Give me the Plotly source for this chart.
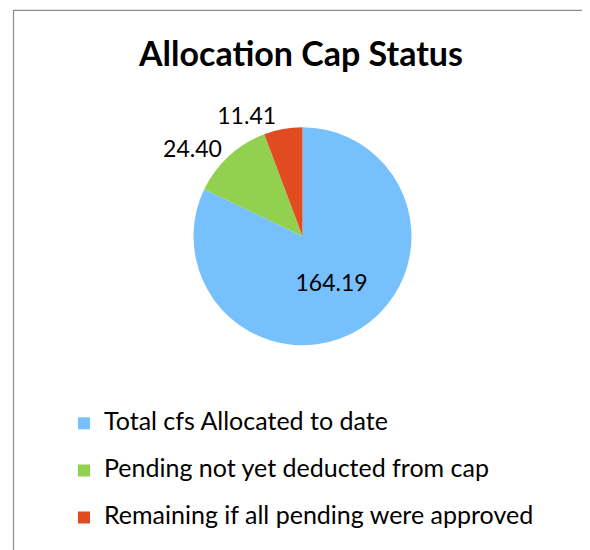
import plotly.graph_objects as go

labels = ["Total cfs Allocated to date",
          "Pending not yet deducted from cap",
          "Remaining if all pending were approved"]
values = [164.19, 24.40, 11.41]
value_text = ["164.19", "24.40", "11.41"]
colors = ["#77C0FE", "#92D050", "#E14B20"]
text_pos = ["inside", "outside", "outside"]

W, H = 590, 550
OFF = 8  # page body margin offset in the browser
cx, cy, r = 302.5 - OFF, 240.5 - OFF, 111

legend_labels = [f"<span style='font-size:25px'>{l}</span><br> " for l in labels]

fig = go.Figure(go.Pie(
    labels=legend_labels,
    values=values,
    text=value_text,
    textinfo="text",
    textposition=text_pos,
    marker=dict(colors=colors, line=dict(width=0)),
    sort=False,
    direction="clockwise",
    rotation=0,
    insidetextfont=dict(color="black", size=23, family="Lato"),
    outsidetextfont=dict(color="black", size=23, family="Lato"),
    domain=dict(x=[(cx - r) / W, (cx + r) / W], y=[1 - (cy + r) / H, 1 - (cy - r) / H]),
    hoverinfo="label+value",
))

fig.update_layout(
    width=W, height=H,
    margin=dict(l=0, r=0, t=0, b=0),
    paper_bgcolor="white",
    plot_bgcolor="white",
    title=dict(text="<b>Allocation Cap Status</b>", x=(301 - OFF) / W, xanchor="center",
               y=1 - (54 - OFF) / H, yanchor="middle",
               font=dict(family="Lato", size=34, color="black")),
    font=dict(family="Lato", color="black"),
    showlegend=True,
    legend=dict(x=(64 - OFF) / W, xanchor="left", y=1 - (413 - OFF) / H, yanchor="top",
                font=dict(size=17, family="Lato", color="black"),
                valign="top", bgcolor="rgba(0,0,0,0)"),
    shapes=[dict(type="rect", xref="paper", yref="paper",
                 x0=(13.5 - OFF) / W, x1=1.05, y0=-0.05, y1=1 - (10.5 - OFF) / H,
                 line=dict(color="#8C8C8C", width=1.2), fillcolor="rgba(0,0,0,0)")],
)

fig.write_html("out.html")
